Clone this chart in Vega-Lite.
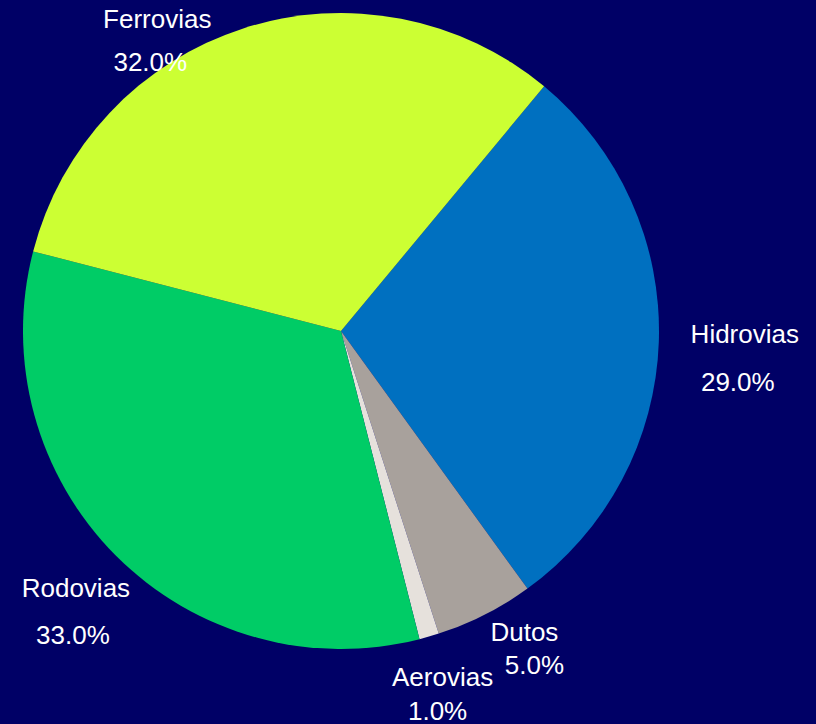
{
  "$schema": "https://vega.github.io/schema/vega-lite/v6.json",
  "width": 682,
  "height": 662,
  "padding": {"left": 0, "top": 0, "right": 134, "bottom": 62},
  "autosize": {"type": "none"},
  "background": "#000066",
  "view": {"stroke": null},
  "config": {"text": {"font": "Liberation Sans", "fontSize": 26, "color": "#FFFFFF", "radius": 370, "align": "center", "baseline": "middle"}},
  "data": {
    "values": [
      {"cat": "Hidrovias", "share": 0.29},
      {"cat": "Dutos", "share": 0.05},
      {"cat": "Aerovias", "share": 0.01},
      {"cat": "Rodovias", "share": 0.33},
      {"cat": "Ferrovias", "share": 0.32}
    ]
  },
  "transform": [{"window": [{"op": "row_number", "as": "idx"}]}],
  "encoding": {
    "theta": {"field": "share", "type": "quantitative", "stack": true, "scale": {"range": [0.6929, 6.9761]}},
    "order": {"field": "idx", "type": "quantitative"}
  },
  "layer": [
    {
      "mark": {"type": "arc", "radius": 318},
      "encoding": {
        "color": {
          "field": "cat", "type": "nominal", "legend": null,
          "scale": {"domain": ["Hidrovias", "Dutos", "Aerovias", "Rodovias", "Ferrovias"],
                    "range": ["#0070C0", "#A8A19C", "#E6E1DC", "#00CC66", "#CCFF33"]}
        }
      }
    },
    {"mark": {"type": "text", "dx": 34, "dy": -8},
     "encoding": {"text": {"condition": {"test": "datum.cat === 'Hidrovias'", "field": "cat"}, "value": ""}}},
    {"mark": {"type": "text", "dx": 27, "dy": 40},
     "encoding": {"text": {"condition": {"test": "datum.cat === 'Hidrovias'", "field": "share", "type": "quantitative", "format": ".1%"}, "value": ""}}},
    {"mark": {"type": "text", "dx": 16, "dy": -28},
     "encoding": {"text": {"condition": {"test": "datum.cat === 'Dutos'", "field": "cat"}, "value": ""}}},
    {"mark": {"type": "text", "dx": 26, "dy": 5},
     "encoding": {"text": {"condition": {"test": "datum.cat === 'Dutos'", "field": "share", "type": "quantitative", "format": ".1%"}, "value": ""}}},
    {"mark": {"type": "text", "dx": -1, "dy": -8},
     "encoding": {"text": {"condition": {"test": "datum.cat === 'Aerovias'", "field": "cat"}, "value": ""}}},
    {"mark": {"type": "text", "dx": -6, "dy": 26},
     "encoding": {"text": {"condition": {"test": "datum.cat === 'Aerovias'", "field": "share", "type": "quantitative", "format": ".1%"}, "value": ""}}},
    {"mark": {"type": "text", "dx": -3, "dy": -3},
     "encoding": {"text": {"condition": {"test": "datum.cat === 'Rodovias'", "field": "cat"}, "value": ""}}},
    {"mark": {"type": "text", "dx": -6, "dy": 44},
     "encoding": {"text": {"condition": {"test": "datum.cat === 'Rodovias'", "field": "share", "type": "quantitative", "format": ".1%"}, "value": ""}}},
    {"mark": {"type": "text", "dx": -70, "dy": 41},
     "encoding": {"text": {"condition": {"test": "datum.cat === 'Ferrovias'", "field": "cat"}, "value": ""}}},
    {"mark": {"type": "text", "dx": -77, "dy": 84},
     "encoding": {"text": {"condition": {"test": "datum.cat === 'Ferrovias'", "field": "share", "type": "quantitative", "format": ".1%"}, "value": ""}}}
  ]
}
